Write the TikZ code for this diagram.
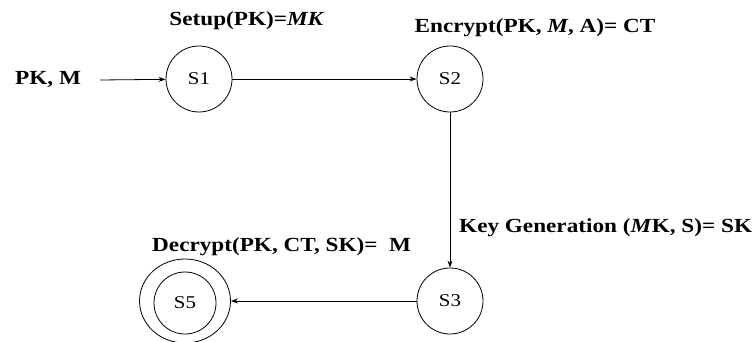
\documentclass[tikz,border=0pt]{standalone}
\usepackage{fontspec}
\setmainfont{Liberation Serif}[FakeStretch=1.16]
\usetikzlibrary{arrows.meta,shapes.geometric}
\begin{document}
\begin{tikzpicture}[x=1pt,y=-1pt,
  state/.style={draw,line width=0.8pt,circle,minimum size=66pt,inner sep=0pt,font=\fontsize{18}{20}\selectfont},
  lbl/.style={font=\bfseries\fontsize{20}{22}\selectfont,inner sep=0pt},
  conn/.style={line width=0.8pt,-{Stealth[length=7pt,width=5pt]}}]
\useasboundingbox (0,0) rectangle (755,342);
\node[state] (s1) at (199,79) {S1};
\node[state] (s2) at (450,79) {S2};
\node[state] (s3) at (450,301) {S3};
\node[draw,line width=0.8pt,ellipse,minimum width=91pt,minimum height=84pt,inner sep=0pt] (s5o) at (185,301) {};
\node[state,minimum size=62pt] (s5) at (185,303) {S5};
\node[lbl,anchor=west] (in) at (15,80) {PK, M};
\coordinate (start) at (100,80);
\draw[conn] (start) -- (s1);
\draw[conn] (s1) -- (s2);
\draw[conn] (s2) -- (s3);
\draw[conn] (s3) -- (s5o);
\node[lbl] (l1) at (247,21) {Setup(PK)=\textit{MK}};
\node[lbl] (l2) at (535,28) {Encrypt(PK, \textit{M}, A)= CT};
\node[lbl,anchor=west] (l3) at (459,228) {Key Generation (\textit{M}K, S)= SK};
\node[lbl,anchor=west] (l4) at (152,247) {Decrypt(PK, CT, SK)=~~M};
\end{tikzpicture}
\end{document}
